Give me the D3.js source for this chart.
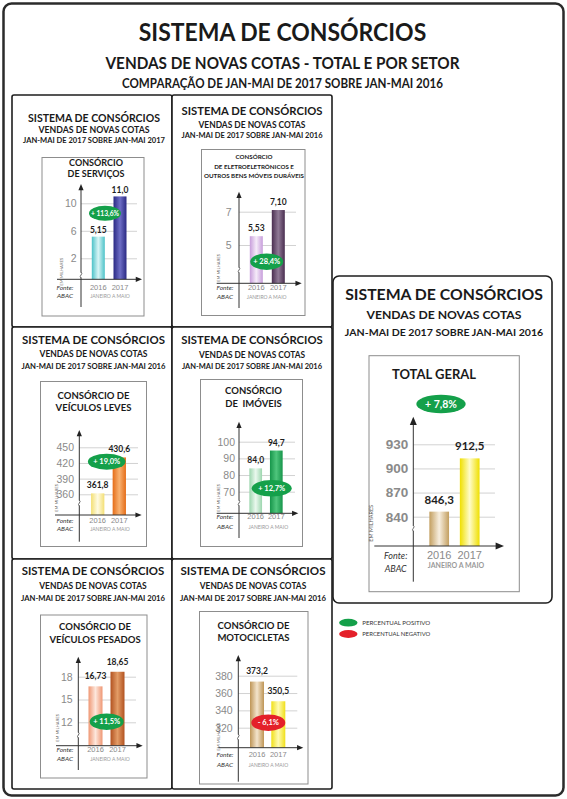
<!DOCTYPE html>
<html>
<head>
<meta charset="utf-8">
<script src="https://cdn.jsdelivr.net/npm/d3@7"></script>
<style>
  body { margin: 0; background: #fff; }
  text { font-family: Lato, "Open Sans", sans-serif; }
</style>
</head>
<body>
<div id="chart"></div>
<script>
var width = 567, height = 799

// data
var sectorTitles = [
  ["CONSÓRCIO", "DE SERVIÇOS"],
  ["CONSÓRCIO", "DE ELETROELETRÔNICOS E", "OUTROS BENS MÓVEIS DURÁVEIS"],
  ["CONSÓRCIO DE", "VEÍCULOS LEVES"],
  ["CONSÓRCIO", "DE  IMÓVEIS"],
  ["CONSÓRCIO DE", "VEÍCULOS PESADOS"],
  ["CONSÓRCIO DE", "MOTOCICLETAS"],
  ["TOTAL GERAL"]
]
var periodLines = [
  "JAN-MAI DE 2017 SOBRE JAN-MAI 2017",
  "JAN-MAI DE 2017 SOBRE JAN-MAI 2016",
  "JAN-MAI DE 2017 SOBRE JAN-MAI 2016",
  "JAN-MAI DE 2017 SOBRE JAN-MAI 2016",
  "JAN-MAI DE 2017 SOBRE JAN-MAI 2016",
  "JAN-MAI DE 2017 SOBRE JAN-MAI 2016",
  "JAN-MAI DE 2017 SOBRE JAN-MAI 2016"
]
var years = ["2016", "2017"]
var sales2016 = [5.15, 5.53, 361.8, 84.0, 16.73, 373.2, 846.3]
var sales2017 = [11.0, 7.10, 430.6, 94.7, 18.65, 350.5, 912.5]
var labels2016 = ["5,15", "5,53", "361,8", "84,0", "16,73", "373,2", "846,3"]
var labels2017 = ["11,0", "7,10", "430,6", "94,7", "18,65", "350,5", "912,5"]
var change = [113.6, 28.4, 19.0, 12.7, 11.5, -6.1, 7.8]
var yTicks = [
  [2, 6, 10],
  [5, 7],
  [360, 390, 420, 450],
  [70, 80, 90, 100],
  [12, 15, 18],
  [320, 340, 360, 380],
  [840, 870, 900, 930]
]

// bar colours: [edge, centre] for 2016 and 2017
var barColors = [
  [["#4cc2c8", "#d8f5f6"], ["#2a2983", "#6e6ec6"]],
  [["#c79ddb", "#f5ebf9"], ["#4a2e50", "#907a96"]],
  [["#f3df74", "#fffbe2"], ["#e56d18", "#f8b272"]],
  [["#9cd6ae", "#eaf8ee"], ["#16954a", "#4fc57c"]],
  [["#ef9774", "#fde7dc"], ["#b25220", "#e39c66"]],
  [["#be9556", "#f3e4cc"], ["#f0df18", "#fffbb2"]],
  [["#c39f60", "#f7eedf"], ["#efdf00", "#fffcc8"]]
]

var small = {
  r: 2, headSize: [10.5, 8.5, 7], secSize: 9.5, valSize: 8.5, pillSize: 7.5,
  tickSize: 10.5, tickWeight: 400, yearSize: 7.5, janSize: 5, fonteSize: 6.5,
  emSize: 4.2, arrow: 2.6
}
var layout = [
  { box: [12, 95, 172, 327], headX: 94, headY: [122, 132.5, 142.5], headW: [132, 111, 142],
    inner: [42, 157.5, 144, 316], secX: 96, secY: [165.7, 176.7], secSize: 9,
    axisX: 81, axisTop: 184, axisBottom: 307, axisY: 279.3, xStart: 57, xEnd: 142,
    ref: [2, 258.3, 10, 203.3], labelRight: 76.7, gridEnd: 137,
    barX: [98.3, 120], bw: 13, gap: 3.5, pill: [105, 213.3, 16, 7.5],
    fonteX: 65, yearY: 290, abacY: 298.3, janX: 110, janY: 298.3, emX: 61.7, emY: 271.7, breakY: 275 },
  { box: [172, 95, 332, 327], headX: 252, headY: [115, 127.5, 138], headW: [141, 107, 141],
    inner: [201.5, 149.5, 305, 315.5], secX: 254, secY: [159, 169, 177.5], secSize: 6.2,
    axisX: 239, axisTop: 191.7, axisBottom: 308, axisY: 283.3, xStart: 216.7, xEnd: 301.7,
    ref: [5, 245, 7, 211.7], labelRight: 231.7, gridEnd: 296,
    barX: [256.3, 278.3], bw: 13, gap: 5, pill: [266.7, 261.7, 16.5, 8.3],
    fonteX: 225, yearY: 290, abacY: 299, janX: 266.7, janY: 299, emX: 219, emY: 268, breakY: 270 },
  { box: [12, 327, 172, 559], headX: 93.5, headY: [343.5, 356.5, 369], headW: [143, 108, 144],
    inner: [40.5, 381.5, 146.5, 546.5], secX: 93.5, secY: [399, 411],
    axisX: 79.3, axisTop: 430, axisBottom: 541.7, axisY: 515, xStart: 55, xEnd: 141.7,
    ref: [360, 494.3, 450, 447.3], labelRight: 74, gridEnd: 138,
    barX: [97.7, 119.3], bw: 13.3, gap: 5, pill: [106.7, 461.7, 18.8, 8],
    fonteX: 65, yearY: 522.7, abacY: 530.7, janX: 110, janY: 530.7, emX: 56.7, emY: 498, breakY: 503 },
  { box: [172, 327, 332, 559], headX: 252, headY: [343.5, 357.5, 369], headW: [141.5, 106, 140],
    inner: [200.5, 379.5, 302.5, 546.5], secX: 253.5, secY: [394.3, 406.7],
    axisX: 239, axisTop: 421.7, axisBottom: 538, axisY: 513.3, xStart: 216.7, xEnd: 298.3,
    ref: [70, 491.7, 100, 441.7], labelRight: 235, gridEnd: 295,
    barX: [255.7, 276.3], bw: 12.7, gap: 5, pill: [271.7, 488.3, 20, 8.3],
    fonteX: 225, yearY: 519.3, abacY: 529, janX: 268.3, janY: 529, emX: 219, emY: 498, breakY: 503 },
  { box: [12, 559, 172, 789], headX: 93, headY: [575, 588.5, 600.5], headW: [142.5, 107.5, 144],
    inner: [40.5, 615, 147, 778], secX: 95, secY: [630, 642.7],
    axisX: 78.3, axisTop: 656.7, axisBottom: 770, axisY: 745.7, xStart: 56, xEnd: 142.7,
    ref: [12, 722.3, 18, 676.7], labelRight: 72.7, gridEnd: 136,
    barX: [95.5, 117.5], bw: 14, gap: 7, pill: [106.7, 721.7, 17, 8.3],
    fonteX: 65, yearY: 752.3, abacY: 760.7, janX: 110, janY: 760.7, emX: 57.7, emY: 728, breakY: 735 },
  { box: [172, 559, 332, 789], headX: 253, headY: [574.5, 588.5, 600.5], headW: [145, 106.5, 146],
    inner: [199.5, 611.5, 308, 784], secX: 253.5, secY: [629, 641],
    axisX: 238.3, axisTop: 655, axisBottom: 781.7, axisY: 747.7, xStart: 218.3, xEnd: 303.3,
    ref: [320, 727.7, 380, 675.7], labelRight: 232.7, gridEnd: 297.3,
    barX: [257, 278.3], bw: 14, gap: 7.5, pill: [268.3, 722.7, 17, 8.3],
    fonteX: 225, yearY: 757.3, abacY: 766.7, janX: 268.3, janY: 766.7, emX: 218.3, emY: 736.7, breakY: 737 },
  { box: [333, 276, 552, 603], r: 6, headX: 444, headY: [300, 319.3, 335.7], headW: [197.7, 155, 198.3],
    headSize: [14.5, 11.5, 10],
    inner: [369, 355.7, 519.3, 591.7], secX: 434, secY: [379.3], secSize: 13,
    axisX: 413.3, axisTop: 416.7, axisBottom: 581.7, axisY: 546, xStart: 374.3, xEnd: 504,
    ref: [840, 516.7, 930, 444.3], labelRight: 408.3, gridEnd: 495,
    barX: [439.2, 469.7], bw: 19.7, gap: 8, valSize: 11.5, pill: [441, 404, 24.7, 9.2], pillSize: 10.5,
    tickSize: 13.5, tickWeight: 700, yearSize: 11, janSize: 7, fonteSize: 9, emSize: 5.5, arrow: 3.5,
    fonteX: 395.7, yearY: 559.3, abacY: 571.7, janX: 456, janY: 568.3, emX: 370.7, emY: 523.3, breakY: 528.3 }
]

var pt = d3.formatLocale({ decimal: ",", thousands: ".", grouping: [3], currency: ["R$", ""] })
var pctFormat = pt.format(".1f")
var tickFormat = pt.format("d")

var svg = d3.select("#chart").append("svg")
    .attr("width", width)
    .attr("height", height)

var defs = svg.append("defs")

// outer frame
svg.append("rect")
  .attr("x", 3.5).attr("y", 3.5)
  .attr("width", 560).attr("height", 792)
  .attr("rx", 8)
  .attr("fill", "white")
  .attr("stroke", "#2b2b2b")
  .attr("stroke-width", 2.5)

var mainTitles = [
  { t: "SISTEMA DE CONSÓRCIOS", y: 40.5, s: 25, w: 287.5 },
  { t: "VENDAS DE NOVAS COTAS - TOTAL E POR SETOR", y: 68.7, s: 17, w: 354 },
  { t: "COMPARAÇÃO DE JAN-MAI DE 2017 SOBRE JAN-MAI 2016", y: 88, s: 13, w: 321 }
]
svg.selectAll(".main-title")
  .data(mainTitles)
  .enter().append("text")
  .attr("class", "main-title")
  .attr("x", 282.5)
  .attr("y", function(d) { return d.y })
  .attr("text-anchor", "middle")
  .attr("font-size", function(d) { return d.s })
  .attr("font-weight", 700)
  .attr("fill", "#1a1a1a")
  .attr("textLength", function(d) { return d.w })
  .attr("lengthAdjust", "spacingAndGlyphs")
  .text(function(d) { return d.t })

layout.forEach(function(_, i) { drawPanel(i) })

function drawPanel(i) {
  var L = Object.assign({}, small, layout[i])
  var g = svg.append("g")

  g.append("rect")
    .attr("x", L.box[0]).attr("y", L.box[1])
    .attr("width", L.box[2] - L.box[0]).attr("height", L.box[3] - L.box[1])
    .attr("rx", L.r)
    .attr("fill", "white")
    .attr("stroke", "#1e1e1e")
    .attr("stroke-width", 1.6)

  var head = ["SISTEMA DE CONSÓRCIOS", "VENDAS DE NOVAS COTAS", periodLines[i]]
  head.forEach(function(t, k) {
    g.append("text")
      .attr("x", L.headX).attr("y", L.headY[k])
      .attr("text-anchor", "middle")
      .attr("font-size", L.headSize[k])
      .attr("font-weight", 700)
      .attr("fill", "#1a1a1a")
      .attr("textLength", L.headW[k])
      .attr("lengthAdjust", "spacingAndGlyphs")
      .text(t)
  })

  g.append("rect")
    .attr("x", L.inner[0]).attr("y", L.inner[1])
    .attr("width", L.inner[2] - L.inner[0]).attr("height", L.inner[3] - L.inner[1])
    .attr("fill", "white")
    .attr("stroke", "#8d8d8d")
    .attr("stroke-width", 1)

  sectorTitles[i].forEach(function(t, k) {
    g.append("text")
      .attr("x", L.secX).attr("y", L.secY[k])
      .attr("text-anchor", "middle")
      .attr("font-size", L.secSize)
      .attr("font-weight", 700)
      .attr("fill", "#1a1a1a")
      .style("white-space", "pre")
      .text(t)
  })

  var y = d3.scaleLinear().domain([L.ref[0], L.ref[2]]).range([L.ref[1], L.ref[3]])
  var x = d3.scalePoint().domain(years).range(L.barX)

  // gridlines and tick labels
  var yAxis = d3.axisLeft(y)
    .tickValues(yTicks[i])
    .tickFormat(tickFormat)
    .tickSize(-(L.gridEnd - L.axisX))
    .tickPadding(L.axisX - L.labelRight)
  g.append("g")
    .attr("class", "axis y-axis")
    .attr("transform", "translate(" + L.axisX + ",0)")
    .call(yAxis)
    .call(function(a) {
      a.select(".domain").remove()
      a.selectAll("line").attr("stroke", "#d2d2d2").attr("stroke-width", 1)
      a.selectAll("text")
        .attr("fill", "#8a8a8a")
        .attr("font-size", L.tickSize)
        .attr("font-weight", L.tickWeight)
        .style("font-family", "'Liberation Sans', Arial, sans-serif")
    })

  var bars = years.map(function(yr, j) {
    return {
      year: yr,
      value: j ? sales2017[i] : sales2016[i],
      label: j ? labels2017[i] : labels2016[i],
      colors: barColors[i][j],
      id: "grad-" + i + "-" + j
    }
  })

  bars.forEach(function(d) {
    var grad = defs.append("linearGradient").attr("id", d.id)
      .attr("x1", 0).attr("x2", 1).attr("y1", 0).attr("y2", 0)
    grad.append("stop").attr("offset", 0).attr("stop-color", d.colors[0])
    grad.append("stop").attr("offset", 0.5).attr("stop-color", d.colors[1])
    grad.append("stop").attr("offset", 1).attr("stop-color", d.colors[0])
  })

  g.selectAll(".bar")
    .data(bars)
    .enter().append("rect")
    .attr("class", "bar")
    .attr("x", function(d) { return x(d.year) - L.bw / 2 })
    .attr("y", function(d) { return y(d.value) })
    .attr("width", L.bw)
    .attr("height", function(d) { return L.axisY - y(d.value) })
    .attr("fill", function(d) { return "url(#" + d.id + ")" })

  // axis lines with arrows
  var a = L.arrow
  g.append("line")
    .attr("x1", L.axisX).attr("x2", L.axisX)
    .attr("y1", L.axisTop + a).attr("y2", L.axisBottom)
    .attr("stroke", "#333").attr("stroke-width", 1)
  g.append("path")
    .attr("d", "M" + L.axisX + "," + L.axisTop + "L" + (L.axisX - a) + "," + (L.axisTop + a * 2.4) +
      "L" + (L.axisX + a) + "," + (L.axisTop + a * 2.4) + "Z")
    .attr("fill", "#222")
  g.append("line")
    .attr("x1", L.xStart).attr("x2", L.xEnd - a)
    .attr("y1", L.axisY).attr("y2", L.axisY)
    .attr("stroke", "#333").attr("stroke-width", 1)
  g.append("path")
    .attr("d", "M" + L.xEnd + "," + L.axisY + "L" + (L.xEnd - a * 2.4) + "," + (L.axisY - a) +
      "L" + (L.xEnd - a * 2.4) + "," + (L.axisY + a) + "Z")
    .attr("fill", "#222")

  // axis break
  g.append("rect")
    .attr("x", L.axisX - 1.5).attr("y", L.breakY - 2.5)
    .attr("width", 3).attr("height", 5)
    .attr("fill", "white")
  g.append("path")
    .attr("d", "M" + L.axisX + "," + (L.breakY - 3) + "q1.6,1.5 0,3 q-1.6,1.5 0,3")
    .attr("fill", "none")
    .attr("stroke", "#444")
    .attr("stroke-width", 0.8)

  g.append("text")
    .attr("transform", "translate(" + L.emX + "," + L.emY + ") rotate(-90)")
    .attr("text-anchor", "middle")
    .attr("dy", "0.35em")
    .attr("font-size", L.emSize)
    .attr("fill", "#555")
    .text("EM MILHARES")

  g.selectAll(".value")
    .data(bars)
    .enter().append("text")
    .attr("class", "value")
    .attr("x", function(d) { return x(d.year) })
    .attr("y", function(d) { return y(d.value) - L.gap })
    .attr("text-anchor", "middle")
    .attr("font-size", L.valSize)
    .attr("font-weight", 700)
    .attr("fill", "#1e1e1e")
    .text(function(d) { return d.label })

  g.selectAll(".year")
    .data(bars)
    .enter().append("text")
    .attr("class", "year")
    .attr("x", function(d) { return x(d.year) })
    .attr("y", L.yearY)
    .attr("text-anchor", "middle")
    .attr("font-size", L.yearSize)
    .attr("fill", "#8a8a8a")
    .style("font-family", "'Liberation Sans', Arial, sans-serif")
    .text(function(d) { return d.year })

  g.append("text")
    .attr("x", L.janX).attr("y", L.janY)
    .attr("text-anchor", "middle")
    .attr("font-size", L.janSize)
    .attr("font-weight", i === 6 ? 700 : 400)
    .attr("fill", "#9a9a9a")
    .text("JANEIRO A MAIO")

  ;[["Fonte:", L.yearY], ["ABAC", L.abacY]].forEach(function(f) {
    g.append("text")
      .attr("x", L.fonteX).attr("y", f[1])
      .attr("text-anchor", "middle")
      .attr("font-size", L.fonteSize)
      .attr("font-style", "italic")
      .attr("fill", "#333")
      .text(f[0])
  })

  // percentage pill
  var v = change[i]
  g.append("ellipse")
    .attr("cx", L.pill[0]).attr("cy", L.pill[1])
    .attr("rx", L.pill[2]).attr("ry", L.pill[3])
    .attr("fill", v >= 0 ? "#14a04a" : "#e4202a")
  var pillText = g.append("text")
    .attr("x", L.pill[0]).attr("y", L.pill[1])
    .attr("dy", "0.36em")
    .attr("text-anchor", "middle")
    .attr("font-size", L.pillSize)
    .attr("font-weight", 700)
    .attr("fill", "white")
    .text((v >= 0 ? "+ " : "- ") + pctFormat(Math.abs(v)) + "%")
  var maxW = L.pill[2] * 1.75
  if (pillText.node().getComputedTextLength() > maxW) {
    pillText.attr("textLength", maxW).attr("lengthAdjust", "spacingAndGlyphs")
  }
}

// legend
var legendItems = [
  { label: "PERCENTUAL POSITIVO", color: "#14a04a", y: 622.7 },
  { label: "PERCENTUAL NEGATIVO", color: "#e4202a", y: 634 }
]
var legend = svg.selectAll(".legend")
  .data(legendItems)
  .enter().append("g")
  .attr("class", "legend")
  .attr("transform", function(d) { return "translate(348.3," + d.y + ")" })
legend.append("ellipse")
  .attr("rx", 9.2).attr("ry", 3.9)
  .attr("fill", function(d) { return d.color })
legend.append("text")
  .attr("x", 14).attr("dy", "0.35em")
  .attr("font-size", 5.6)
  .attr("fill", "#333")
  .attr("textLength", 68)
  .attr("lengthAdjust", "spacingAndGlyphs")
  .text(function(d) { return d.label })
</script>
</body>
</html>
